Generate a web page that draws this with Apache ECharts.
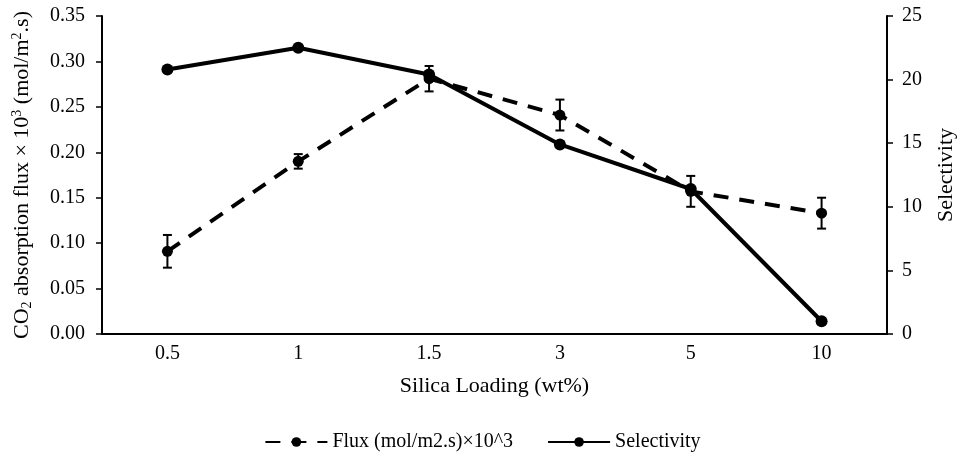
<!DOCTYPE html>
<html><head><meta charset="utf-8">
<script src="https://cdn.jsdelivr.net/npm/echarts@6/dist/echarts.min.js"></script>
<style>html,body{margin:0;padding:0;background:#fff}#c{width:965px;height:459px}</style>
</head><body><div id="c"></div>
<script>
const categories = ['0.5', '1', '1.5', '3', '5', '10'];
const fluxValues = [0.091, 0.190, 0.281, 0.241, 0.157, 0.133];
const fluxErrors = [0.018, 0.008, 0.014, 0.017, 0.017, 0.017];
const selectivityValues = [20.8, 22.5, 20.4, 14.9, 11.4, 1.0];
const leftTicks = [0, 0.05, 0.10, 0.15, 0.20, 0.25, 0.30, 0.35];
const rightTicks = [0, 5, 10, 15, 20, 25];

const font = 'Liberation Serif';
const chart = echarts.init(document.getElementById('c'));
const errData = fluxValues.map((v, i) => [i, v - fluxErrors[i], v + fluxErrors[i]]);

chart.setOption({
  animation: false,
  textStyle: { fontFamily: font, color: '#000' },
  grid: { left: 102, right: 77, top: 16, bottom: 125 },
  legend: {
    bottom: 2, left: 'center', itemGap: 34, itemWidth: 62, itemHeight: 12,
    textStyle: { fontFamily: font, fontSize: 20, color: '#000' },
    data: ['Flux (mol/m2.s)×10^3', 'Selectivity']
  },
  xAxis: {
    type: 'category', data: categories,
    name: 'Silica Loading (wt%)', nameLocation: 'middle', nameGap: 41,
    nameTextStyle: { fontFamily: font, fontSize: 22, color: '#000' },
    axisLine: { lineStyle: { color: '#000', width: 2 } },
    axisTick: { alignWithLabel: true, length: 6, lineStyle: { color: '#000', width: 1.5 } },
    axisLabel: { fontFamily: font, fontSize: 20, color: '#000', margin: 10 }
  },
  yAxis: [{
    type: 'value', min: 0, max: 0.35, interval: 0.05,
    name: '{a|CO}{s|2}{a| absorption flux × 10}{p|3}{a| (mol/m}{p|2}{a|.s)}',
    nameLocation: 'middle', nameGap: 68, nameRotate: 90,
    nameTextStyle: { rich: {
      a: { fontFamily: font, fontSize: 22, color: '#000' },
      s: { fontFamily: font, fontSize: 14, color: '#000', verticalAlign: 'bottom', padding: [10, 0, 0, 0] },
      p: { fontFamily: font, fontSize: 14, color: '#000', verticalAlign: 'top', padding: [0, 0, 10, 0] }
    } },
    axisLine: { show: true, lineStyle: { color: '#000', width: 2 } },
    axisTick: { show: true, length: 6, lineStyle: { color: '#000', width: 1.5 } },
    splitLine: { show: false },
    axisLabel: { fontFamily: font, fontSize: 20, color: '#000', margin: 17, formatter: v => v.toFixed(2) }
  }, {
    type: 'value', min: 0, max: 25, interval: 5, position: 'right',
    name: 'Selectivity', nameLocation: 'middle', nameGap: 48, nameRotate: 90,
    nameTextStyle: { fontFamily: font, fontSize: 22, color: '#000' },
    axisLine: { show: true, lineStyle: { color: '#000', width: 2 } },
    axisTick: { show: true, length: 6, lineStyle: { color: '#000', width: 1.5 } },
    splitLine: { show: false },
    axisLabel: { fontFamily: font, fontSize: 20, color: '#000', margin: 15 }
  }],
  series: [{
    name: 'Flux (mol/m2.s)×10^3', type: 'line', yAxisIndex: 0, data: fluxValues,
    symbol: 'circle', symbolSize: 11,
    lineStyle: { color: '#000', width: 4, type: [15, 11] },
    itemStyle: { color: '#000' }, z: 3
  }, {
    name: 'Selectivity', type: 'line', yAxisIndex: 1, data: selectivityValues,
    symbol: 'circle', symbolSize: 12,
    lineStyle: { color: '#000', width: 4 },
    itemStyle: { color: '#000' }, z: 3
  }, {
    type: 'custom', yAxisIndex: 0, data: errData, z: 4,
    renderItem: function (params, api) {
      const x = api.value(0);
      const lo = api.coord([x, api.value(1)]);
      const hi = api.coord([x, api.value(2)]);
      const w = 4.5;
      const st = { stroke: '#000', lineWidth: 2 };
      return { type: 'group', children: [
        { type: 'line', shape: { x1: lo[0], y1: lo[1], x2: hi[0], y2: hi[1] }, style: st },
        { type: 'line', shape: { x1: lo[0] - w, y1: lo[1], x2: lo[0] + w, y2: lo[1] }, style: st },
        { type: 'line', shape: { x1: hi[0] - w, y1: hi[1], x2: hi[0] + w, y2: hi[1] }, style: st }
      ] };
    }
  }]
});
</script></body></html>
